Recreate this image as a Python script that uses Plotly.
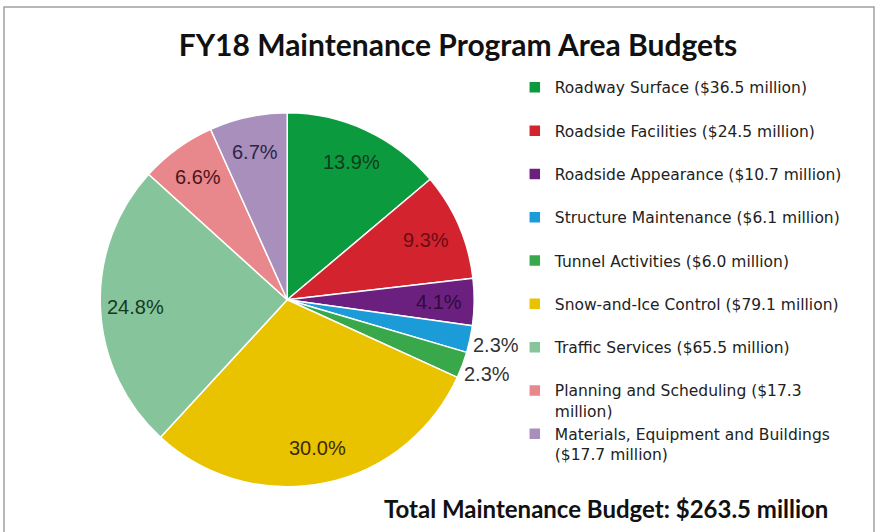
import math
import plotly.graph_objects as go

categories = [
    "Roadway Surface",
    "Roadside Facilities",
    "Roadside Appearance",
    "Structure Maintenance",
    "Tunnel Activities",
    "Snow-and-Ice Control",
    "Traffic Services",
    "Planning and Scheduling",
    "Materials, Equipment and Buildings",
]
budgets = [36.5, 24.5, 10.7, 6.1, 6.0, 79.1, 65.5, 17.3, 17.7]
pct_labels = ["13.9%", "9.3%", "4.1%", "2.3%", "2.3%", "30.0%", "24.8%", "6.6%", "6.7%"]
outside_label = [False, False, False, True, True, False, False, False, False]
total_budget = 263.5

colors = [
    "#0b9a3e",
    "#d3232f",
    "#6b2080",
    "#1b9bd7",
    "#38a84a",
    "#e9c200",
    "#86c59b",
    "#e8878c",
    "#a98fbb",
]
label_colors = ["#0d3d1c", "#6a0c12", "#2e0c3a", "#333333", "#333333",
                "#3a2c00", "#143a22", "#4a1618", "#2e2448"]

W, H = 877, 532
pie_x = [0.114, 0.541]
pie_y = [0.085, 0.788]

# legend labels: the two long ones wrap, the rest get a blank second line
# so every entry takes two lines of height like in the original
wrapped = {
    "Planning and Scheduling": "Planning and Scheduling (${}<br>million)",
    "Materials, Equipment and Buildings": "Materials, Equipment and Buildings<br>(${} million)",
}
legend_names = []
for cat, val in zip(categories, budgets):
    if cat in wrapped:
        legend_names.append(wrapped[cat].format(val))
    else:
        legend_names.append("{} (${} million)<br> ".format(cat, val))

fig = go.Figure()
fig.add_trace(
    go.Pie(
        labels=legend_names,
        values=budgets,
        textinfo="none",
        marker=dict(colors=colors, line=dict(color="white", width=1.5)),
        sort=False,
        direction="clockwise",
        rotation=0,
        domain=dict(x=pie_x, y=pie_y),
        hoverinfo="label+value+percent",
    )
)

# percentage labels at the middle angle of each slice
cx = (pie_x[0] + pie_x[1]) / 2
cy = (pie_y[0] + pie_y[1]) / 2
radius = min((pie_x[1] - pie_x[0]) * W, (pie_y[1] - pie_y[0]) * H) / 2
total = sum(budgets)
cum = 0
for val, txt, out, col in zip(budgets, pct_labels, outside_label, label_colors):
    theta = 2 * math.pi * (cum + val / 2) / total
    cum += val
    r = radius * (1.14 if out else 0.81)
    fig.add_annotation(
        text=txt,
        xref="paper",
        yref="paper",
        x=cx + r * math.sin(theta) / W,
        y=cy + r * math.cos(theta) / H,
        xanchor="center",
        yanchor="middle",
        showarrow=False,
        font=dict(family="Liberation Sans, Arial", size=20, color=col),
    )

fig.add_annotation(
    text="Total Maintenance Budget: ${} million".format(total_budget),
    xref="paper",
    yref="paper",
    x=830 / W,
    y=1 - 508 / H,
    xanchor="right",
    yanchor="middle",
    showarrow=False,
    font=dict(family="Lato", size=24, color="#111111", weight="bold"),
)

# chart frame
fig.add_shape(
    type="rect",
    xref="paper",
    yref="paper",
    x0=4 / W,
    x1=874 / W,
    y0=-0.05,
    y1=1 - 7 / H,
    line=dict(color="#a0a0a0", width=1.5),
    fillcolor="rgba(0,0,0,0)",
)

fig.update_layout(
    width=W,
    height=H,
    margin=dict(l=0, r=0, t=0, b=0),
    paper_bgcolor="white",
    plot_bgcolor="white",
    title=dict(
        text="FY18 Maintenance Program Area Budgets",
        x=458 / W,
        xanchor="center",
        y=1 - 45 / H,
        yanchor="middle",
        font=dict(family="Lato", size=30, color="#111111", weight="bold"),
    ),
    showlegend=True,
    legend=dict(
        x=0.587,
        y=0.867,
        xanchor="left",
        yanchor="top",
        valign="top",
        itemwidth=30,
        font=dict(family="DejaVu Sans", size=15.5, color="#222222"),
        itemclick=False,
        bgcolor="rgba(0,0,0,0)",
    ),
)

fig.write_html(
    "out.html",
    config={"displayModeBar": False},
    post_script="document.body.style.margin = '0px';",
)
